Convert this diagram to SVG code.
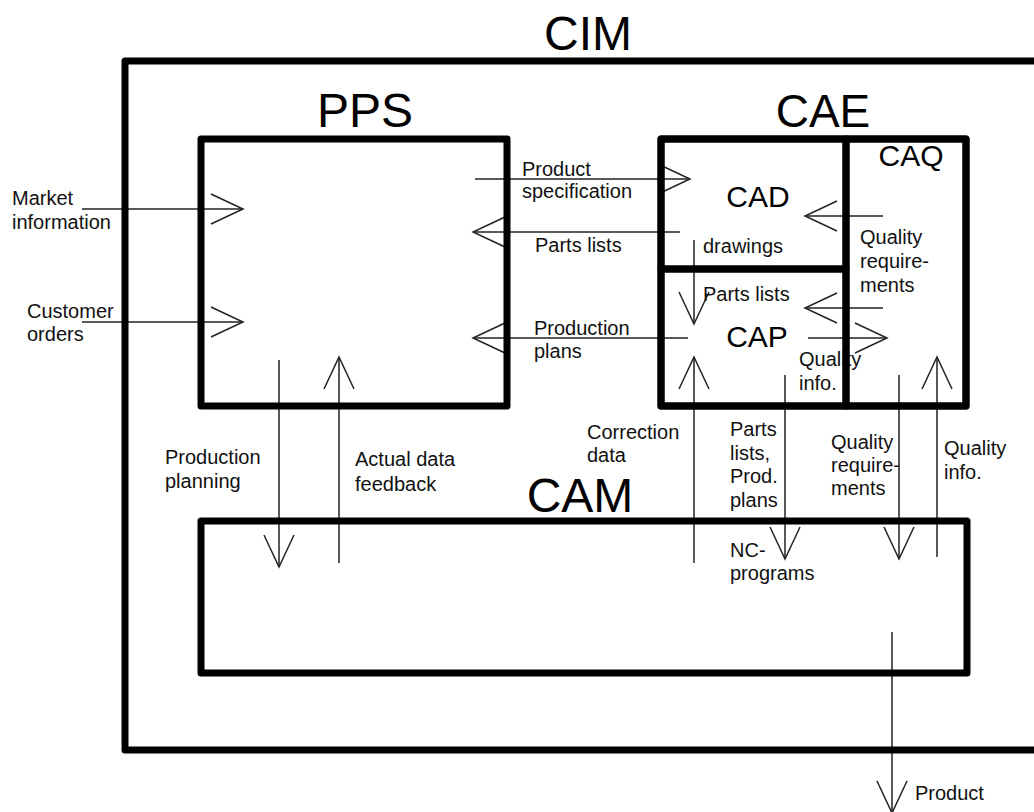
<svg xmlns="http://www.w3.org/2000/svg" width="1034" height="812" viewBox="0 0 1034 812">
<style>
.box{fill:none;stroke:#000;stroke-width:7;stroke-linejoin:round}
.title{font-family:"Liberation Sans",Arial,sans-serif;fill:#000;text-anchor:middle}
.lbl{font-family:"Liberation Sans",Arial,sans-serif;font-size:20px;fill:#111}
.ln{fill:none;stroke:#222;stroke-width:1.5}
</style>
<defs>
<marker id="ah" markerUnits="userSpaceOnUse" markerWidth="40" markerHeight="40" refX="32" refY="16" orient="auto" overflow="visible">
<path d="M0,1 L32,16 L0,31" fill="none" stroke="#222" stroke-width="1.5"/>
</marker>
</defs>
<rect width="1034" height="812" fill="#fff"/>
<g id="connectors">
<path class="ln" marker-end="url(#ah)" d="M82,209 H243"/>
<path class="ln" marker-end="url(#ah)" d="M82,322 H243"/>
<path class="ln" marker-end="url(#ah)" d="M475,179 H690"/>
<path class="ln" marker-end="url(#ah)" d="M680,232 H473"/>
<path class="ln" marker-end="url(#ah)" d="M688,338 H473"/>
<path class="ln" marker-end="url(#ah)" d="M694,240 V324"/>
<path class="ln" marker-end="url(#ah)" d="M694,563 V357"/>
<path class="ln" marker-end="url(#ah)" d="M883,216 H805"/>
<path class="ln" marker-end="url(#ah)" d="M883,308 H805"/>
<path class="ln" marker-end="url(#ah)" d="M808,338 H887"/>
<path class="ln" marker-end="url(#ah)" d="M785,375 V559"/>
<path class="ln" marker-end="url(#ah)" d="M899,375 V559"/>
<path class="ln" marker-end="url(#ah)" d="M937,557 V357"/>
<path class="ln" marker-end="url(#ah)" d="M279,360 V567"/>
<path class="ln" marker-end="url(#ah)" d="M339,563 V357"/>
<path class="ln" marker-end="url(#ah)" d="M892,632 V813"/>
<text class="lbl" x="12" y="205">Market</text>
<text class="lbl" x="12" y="229">information</text>
<text class="lbl" x="27" y="318">Customer</text>
<text class="lbl" x="27" y="341">orders</text>
<text class="lbl" x="522" y="176">Product</text>
<text class="lbl" x="522" y="198">specification</text>
<text class="lbl" x="535" y="252">Parts lists</text>
<text class="lbl" x="534" y="335">Production</text>
<text class="lbl" x="534" y="358">plans</text>
<text class="lbl" x="703" y="253">drawings</text>
<text class="lbl" x="703" y="301">Parts lists</text>
<text class="lbl" x="860" y="244">Quality</text>
<text class="lbl" x="860" y="268">require-</text>
<text class="lbl" x="860" y="292">ments</text>
<text class="lbl" x="799" y="366">Quality</text>
<text class="lbl" x="799" y="390">info.</text>
<text class="lbl" x="165" y="464">Production</text>
<text class="lbl" x="165" y="488">planning</text>
<text class="lbl" x="355" y="466">Actual data</text>
<text class="lbl" x="355" y="491">feedback</text>
<text class="lbl" x="587" y="439">Correction</text>
<text class="lbl" x="587" y="462">data</text>
<text class="lbl" x="730" y="436">Parts</text>
<text class="lbl" x="730" y="460">lists,</text>
<text class="lbl" x="730" y="483">Prod.</text>
<text class="lbl" x="730" y="507">plans</text>
<text class="lbl" x="730" y="557">NC-</text>
<text class="lbl" x="730" y="580">programs</text>
<text class="lbl" x="831" y="449">Quality</text>
<text class="lbl" x="831" y="472">require-</text>
<text class="lbl" x="831" y="495">ments</text>
<text class="lbl" x="944" y="455">Quality</text>
<text class="lbl" x="944" y="479">info.</text>
<text class="lbl" x="915" y="800">Product</text>
</g>
<g id="CIM">
<rect class="box" x="125" y="61" width="930" height="689"/>
<text class="title" x="588" y="50" font-size="48">CIM</text>
</g>
<g id="PPS">
<rect class="box" x="201" y="139" width="306" height="267"/>
<text class="title" x="365" y="127" font-size="48">PPS</text>
</g>
<g id="CAE">
<rect class="box" x="661" y="139" width="305" height="267"/>
<text class="title" x="823" y="127" font-size="46">CAE</text>
</g>
<g id="CAD">
<rect class="box" x="661" y="139" width="185" height="130"/>
<text class="title" x="758" y="207" font-size="30">CAD</text>
</g>
<g id="CAP">
<rect class="box" x="661" y="269" width="185" height="137"/>
<text class="title" x="757" y="347" font-size="30">CAP</text>
</g>
<g id="CAQ">
<rect class="box" x="846" y="139" width="120" height="267"/>
<text class="title" x="911" y="166" font-size="30">CAQ</text>
</g>
<g id="CAM">
<rect class="box" x="201" y="521" width="766" height="152"/>
<text class="title" x="580" y="512" font-size="48">CAM</text>
</g>
</svg>
